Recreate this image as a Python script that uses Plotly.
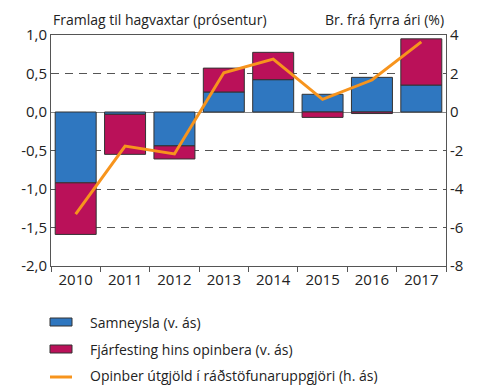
import plotly.graph_objects as go

years = ["2010", "2011", "2012", "2013", "2014", "2015", "2016", "2017"]
samneysla = [-0.92, -0.03, -0.44, 0.26, 0.42, 0.23, 0.45, 0.35]
fjarfesting = [-0.67, -0.52, -0.17, 0.31, 0.355, -0.07, -0.02, 0.60]
utgjold = [-5.3, -1.77, -2.18, 2.04, 2.75, 0.66, 1.66, 3.64]

left_ticks = [1.0, 0.5, 0.0, -0.5, -1.0, -1.5, -2.0]
left_labels = ["1,0", "0,5", "0,0", "-0,5", "-1,0", "-1,5", "-2,0"]
right_ticks = [4, 2, 0, -2, -4, -6, -8]
right_labels = ["4", "2", "0", "-2", "-4", "-6", "-8"]

names = ["Samneysla (v. ás)", "Fjárfesting hins opinbera (v. ás)",
         "Opinber útgjöld í ráðstöfunaruppgjöri (h. ás)"]

BLUE = "#2F77C0"
MAGENTA = "#BA1159"
ORANGE = "#F7941D"
AXIS = "#555555"
FONT = "Open Sans"

fig = go.Figure()
fig.add_trace(go.Bar(x=years, y=samneysla, name=names[0], marker_color=BLUE,
                     marker_line=dict(color="#333333", width=1)))
fig.add_trace(go.Bar(x=years, y=fjarfesting, name=names[1], marker_color=MAGENTA,
                     marker_line=dict(color="#333333", width=1)))
fig.add_trace(go.Scatter(x=years, y=utgjold, name=names[2], yaxis="y2", mode="lines",
                         line=dict(color=ORANGE, width=3)))

fig.update_layout(
    width=478, height=385,
    margin=dict(l=51, r=32, t=35, b=119),
    paper_bgcolor="white", plot_bgcolor="white",
    barmode="relative", bargap=0.17,
    showlegend=False,
    font=dict(family=FONT, size=14, color="#222222"),
    xaxis=dict(type="category", showline=True, linecolor=AXIS, linewidth=1,
               mirror=True, ticks="outside", tickson="boundaries", ticklen=5,
               tickcolor=AXIS, showgrid=False, tickfont=dict(size=15)),
    yaxis=dict(range=[-2, 1], tickvals=left_ticks, ticktext=left_labels,
               showline=True, linecolor=AXIS, linewidth=1, ticks="",
               showgrid=True, gridcolor="#555555", griddash="8px,6px", gridwidth=1,
               zeroline=True, zerolinecolor="#888888", zerolinewidth=1,
               tickfont=dict(size=15)),
    yaxis2=dict(range=[-8, 4], tickvals=right_ticks, ticktext=right_labels,
                overlaying="y", side="right", showline=True, linecolor=AXIS,
                linewidth=1, showgrid=False, zeroline=False, ticks="",
                tickfont=dict(size=15)),
)

fig.add_annotation(text="Framlag til hagvaxtar (prósentur)", xref="paper", yref="paper",
                   x=0, y=1, yshift=4, xanchor="left", yanchor="bottom",
                   showarrow=False, font=dict(size=14))
fig.add_annotation(text="Br. frá fyrra ári (%)", xref="paper", yref="paper",
                   x=1, y=1, yshift=4, xanchor="right", yanchor="bottom",
                   showarrow=False, font=dict(size=14))

# legend drawn below the plot area
legend_y = [322, 349, 375]
H = 385


def yp(px):
    return (H - 119 - px) / (H - 35 - 119)


for i, (nm, yy) in enumerate(zip(names, legend_y)):
    if i < 2:
        fig.add_shape(type="rect", xref="paper", yref="paper",
                      x0=(50 - 51) / 395, x1=(72 - 51) / 395,
                      y0=yp(yy + 4), y1=yp(yy - 4),
                      fillcolor=[BLUE, MAGENTA][i], line=dict(color="#333333", width=1))
    else:
        fig.add_shape(type="line", xref="paper", yref="paper",
                      x0=(50 - 51) / 395, x1=(72 - 51) / 395,
                      y0=yp(yy + 2), y1=yp(yy + 2),
                      line=dict(color=ORANGE, width=3))
    fig.add_annotation(text=nm, xref="paper", yref="paper",
                       x=(88 - 51) / 395, y=yp(yy), xanchor="left", yanchor="middle",
                       showarrow=False, font=dict(size=14))

fig.write_html("out.html")
